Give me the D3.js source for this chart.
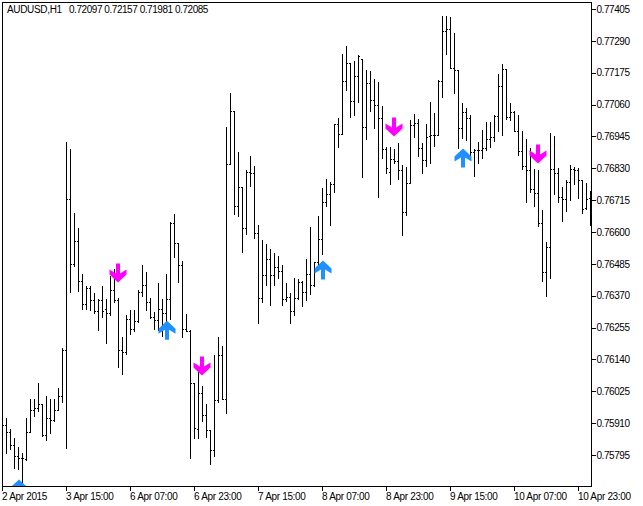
<!DOCTYPE html>
<html>
<head>
<meta charset="utf-8">
<script src="https://cdn.jsdelivr.net/npm/d3@7"></script>
<style>
  html, body { margin: 0; padding: 0; background: #fff; }
  svg { display: block; }
  text { font-family: "Liberation Sans", Arial, sans-serif; font-size: 10px; letter-spacing: -0.33px; fill: #000; }
  .price text, .values { letter-spacing: -0.45px; }
</style>
</head>
<body>
<div id="chart"></div>
<script>
// AUDUSD H1 bars, prices in points (1 point = 0.00001)
// the first bar sits under the left edge of the chart, only its close shows
const opens = [75904,75904,75878,75831,75792,75784,75781,75878,75958,75965,75979,75868,75929,75922,75958,76008,76174,76719,76485,76568,76423,76340,76398,76355,76315,76355,76322,76308,76390,76355,76174,76167,76286,76250,76279,76384,76409,76347,76293,76282,76322,76308,76358,76633,76560,76481,76250,76243,76055,75889,76019,75940,75885,75813,75994,76156,75997,76846,77037,76694,76763,76615,76817,76813,76597,76362,76445,76503,76445,76474,76459,76358,76365,76315,76362,76420,76384,76449,76409,76492,76575,76708,76737,76773,76990,76954,77145,77210,77073,77163,77224,76979,77138,77077,77059,77012,76900,76817,76864,76856,76824,76672,76777,76986,76994,76903,76860,76947,76950,76950,77145,77326,77333,77192,77185,76976,77033,77012,76889,76896,76896,76903,76936,76943,77019,77127,77188,77015,77033,76965,76892,76838,76824,76755,76741,76633,76456,76546,76827,76813,76727,76719,76781,76827,76824,76788,76687,76723];
const highs = [75929,75929,75889,75857,75824,75802,75929,75997,75997,76055,75979,76008,75997,75997,76037,76181,76925,76900,76669,76615,76449,76405,76405,76380,76358,76405,76358,76441,76467,76362,76221,76300,76318,76318,76390,76481,76456,76362,76311,76416,76358,76449,76636,76665,76560,76495,76304,76246,76055,76095,76044,75979,75885,76156,76221,76189,76979,77102,77037,76889,76763,76824,76874,76838,76625,76571,76557,76539,76524,76513,76481,76416,76380,76434,76430,76423,76503,76618,76492,76658,76759,76791,76781,76990,77012,77243,77271,77210,77217,77239,77224,77185,77181,77152,77142,77055,76907,76907,76900,76921,76842,76835,77004,77026,77008,76921,76990,77069,77030,77149,77380,77380,77376,77318,77185,77066,77048,77022,76900,76925,76968,76997,76997,77022,77170,77206,77188,77066,77037,77022,76965,76936,76903,76827,76824,76680,76564,76957,76947,76831,76763,76788,76842,76835,76831,76788,76777,76748];
const lows = [75878,75802,75817,75748,75745,75694,75777,75878,75936,75954,75864,75849,75875,75918,75958,75986,75820,76384,76477,76387,76322,76322,76318,76308,76246,76293,76199,76300,76347,76113,76088,76160,76232,76243,76275,76369,76318,76290,76250,76246,76225,76257,76286,76510,76420,76221,76243,75784,75857,75857,75918,75860,75763,75792,75986,75997,75947,76846,76665,76658,76528,76593,76766,76578,76272,76347,76409,76337,76409,76434,76337,76351,76272,76300,76358,76333,76355,76376,76405,76463,76521,76694,76625,76745,76907,76954,77113,77015,77022,77069,76799,76936,77037,76976,76727,76867,76813,76773,76849,76791,76589,76661,76777,76943,76874,76813,76838,76849,76911,76950,77087,77243,77192,77102,76903,76939,76932,76867,76802,76849,76867,76896,76907,76929,76965,76950,77008,77004,76965,76878,76827,76708,76745,76694,76622,76423,76369,76434,76737,76708,76640,76676,76716,76773,76723,76669,76683,76625];
const closes = [75904,75878,75831,75792,75784,75784,75878,75958,75965,75979,75868,75929,75922,75958,76008,76174,76719,76485,76568,76423,76340,76398,76355,76315,76355,76315,76308,76390,76355,76174,76167,76286,76250,76279,76384,76409,76347,76293,76282,76322,76308,76358,76633,76560,76481,76250,76243,76055,75893,76019,75940,75885,75813,75994,76156,75997,76846,77037,76694,76763,76615,76817,76813,76597,76362,76445,76503,76445,76474,76459,76358,76365,76315,76362,76420,76384,76449,76409,76492,76575,76708,76737,76773,76990,76954,77145,77210,77073,77163,77235,76979,77138,77077,77059,77012,76900,76831,76864,76856,76824,76672,76777,76986,76994,76903,76860,76943,76950,76950,77145,77326,77333,77192,77185,76976,77033,77012,76889,76896,76896,76903,76936,76943,77019,77127,77188,77015,77033,76965,76892,76838,76824,76755,76741,76633,76456,76546,76827,76813,76727,76719,76781,76827,76824,76788,76683,76719,76723];

// signal arrows: bar index and the price of the arrow tip
const downBars = [29, 50, 98, 134];
const downPrices = [76420, 76084, 76947, 76849];
const upBars = [4, 41, 80, 115];
const upPrices = [75709, 76282, 76499, 76903];

const priceTicks = [77405,77290,77175,77060,76945,76830,76715,76600,76485,76370,76255,76140,76025,75910,75795];
const timeTickBars = [0,16,32,48,64,80,96,112,128,144];
const timeTickLabels = ["2 Apr 2015","3 Apr 15:00","6 Apr 07:00","6 Apr 23:00","7 Apr 15:00","8 Apr 07:00","8 Apr 23:00","9 Apr 15:00","10 Apr 07:00","10 Apr 23:00"];
const headerName = "AUDUSD,H1";
const headerValues = "0.72097 0.72157 0.71981 0.72085";

const width = 643, height = 506;
const plot = {left: 2.5, right: 591.5, top: 2.5, bottom: 486.5};

const svg = d3.select("#chart").append("svg")
    .attr("width", width)
    .attr("height", height);

// 4 pixels per bar, the last bar sits just left of the price axis
const x = d3.scaleLinear().domain([0, 147]).range([plot.left, 590.5]);
const y = d3.scaleLinear().domain([75683.3, 77430.3]).range([plot.bottom, plot.top]);
const snap = v => Math.floor(y(v)) + 0.5;

svg.append("clipPath").attr("id", "plotClip")
  .append("rect")
    .attr("x", plot.left).attr("y", plot.top)
    .attr("width", plot.right - plot.left)
    .attr("height", plot.bottom - plot.top);

const bars = svg.append("g")
    .attr("stroke", "#000")
    .attr("clip-path", "url(#plotClip)")
    .attr("shape-rendering", "crispEdges");

opens.forEach((o, i) => {
  const g = bars.append("g");
  g.append("line").attr("x1", x(i)).attr("x2", x(i))
      .attr("y1", snap(highs[i]) - 0.5).attr("y2", snap(lows[i]) + 0.5);
  g.append("line").attr("x1", x(i) - 1.5).attr("x2", x(i))
      .attr("y1", snap(o)).attr("y2", snap(o));
  g.append("line").attr("x1", x(i)).attr("x2", x(i) + 1.5)
      .attr("y1", snap(closes[i])).attr("y2", snap(closes[i]));
});

// arrow shapes drawn around their tip
const downArrow = "M-2,-19H2V-9L8.5,-13V-8L0,0L-8.5,-8V-13L-2,-9Z";
const upArrow = "M-2,19H2V9L8.5,13V8L0,0L-8.5,8V13L-2,9Z";
const arrows = svg.append("g").attr("clip-path", "url(#plotClip)");

arrows.selectAll(".down")
  .data(downBars)
  .enter().append("path")
    .attr("class", "down")
    .attr("d", downArrow)
    .attr("fill", "#ff00ff")
    .attr("transform", (d, i) => "translate(" + (x(d) - 0.5) + "," + y(downPrices[i]) + ")");

arrows.selectAll(".up")
  .data(upBars)
  .enter().append("path")
    .attr("class", "up")
    .attr("d", upArrow)
    .attr("fill", "#1e90ff")
    .attr("transform", (d, i) => "translate(" + (x(d) + 0.5) + "," + y(upPrices[i]) + ")");

// axes
const yAxis = d3.axisRight(y)
    .tickValues(priceTicks)
    .tickFormat(d => (d / 100000).toFixed(5))
    .tickSize(4)
    .tickSizeOuter(0)
    .tickPadding(1)
    .offset(0);

svg.append("g")
    .attr("class", "price")
    .attr("transform", "translate(" + plot.right + ",0)")
    .attr("shape-rendering", "crispEdges")
    .call(yAxis)
    .call(g => g.selectAll("line,path").attr("stroke", "#000"))
    .call(g => g.selectAll("text").attr("fill", "#000").attr("font-size", null).attr("font-family", null));

const xAxis = d3.axisBottom(x)
    .tickValues(timeTickBars)
    .tickFormat((d, i) => timeTickLabels[i])
    .tickSize(4)
    .tickSizeOuter(0)
    .tickPadding(2)
    .offset(0);

svg.append("g")
    .attr("transform", "translate(0," + plot.bottom + ")")
    .attr("shape-rendering", "crispEdges")
    .call(xAxis)
    .call(g => g.select(".domain").attr("d", "M" + plot.left + ",0H" + plot.right).attr("stroke", "#000"))
    .call(g => g.selectAll("line").attr("stroke", "#000"))
    .call(g => g.selectAll("text").attr("fill", "#000").attr("font-size", null).attr("font-family", null)
        .attr("text-anchor", "start").attr("x", -0.5));

// frame: top and left edges
svg.append("path")
    .attr("d", "M" + plot.left + "," + plot.bottom + "V" + plot.top + "H" + plot.right)
    .attr("fill", "none")
    .attr("stroke", "#000")
    .attr("shape-rendering", "crispEdges");

svg.append("text").attr("x", 7).attr("y", 13).text(headerName);
svg.append("text").attr("class", "values").attr("x", 69).attr("y", 13).text(headerValues);
</script>
</body>
</html>
